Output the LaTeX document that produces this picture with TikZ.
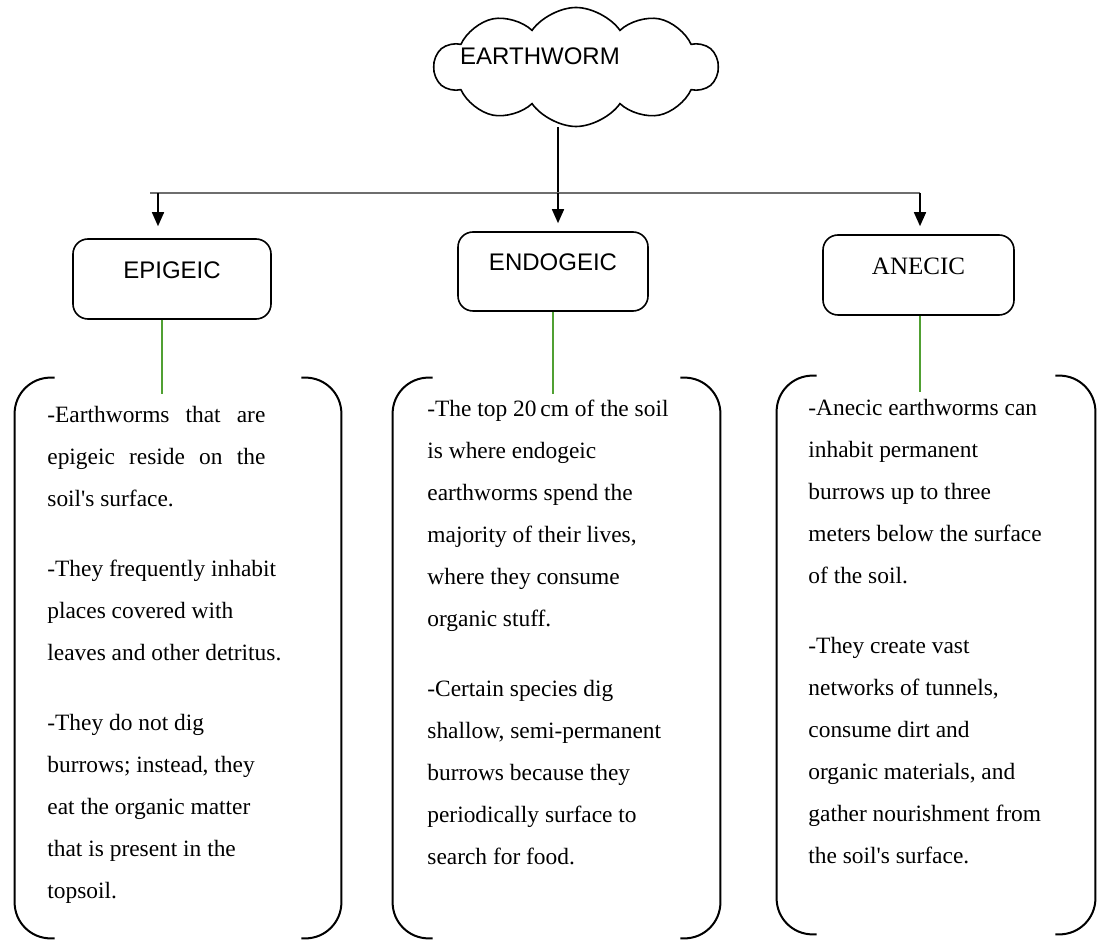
\documentclass[tikz,border=0pt]{standalone}
\usepackage{fontspec}
\setmainfont{Liberation Serif}
\setsansfont{Liberation Sans}
\usetikzlibrary{shapes.symbols,arrows.meta}
\definecolor{leafgreen}{RGB}{80,160,50}
\definecolor{railgray}{RGB}{110,110,110}

\begin{document}
\begin{tikzpicture}[x=0.5pt,y=-0.5pt]
 \tikzstyle{kind}=[rectangle, rounded corners=7.5pt, draw, line width=0.8pt, text depth=9pt, inner sep=0pt, font=\fontsize{12}{14}\selectfont]
 \tikzstyle{sheet}=[rectangle, inner sep=0pt]
 \tikzstyle{bracket}=[line width=1pt, rounded corners=18pt]
 \tikzstyle{notes}=[anchor=base west, align=left, inner sep=0pt, font=\fontsize{11.7}{21}\selectfont]
 \tikzstyle{downarr}=[-{Triangle[width=6pt,length=7pt]}, line width=0.8pt]
 \tikzstyle{greenlink}=[draw=leafgreen, line width=0.9pt, shorten >=-8pt]
 \useasboundingbox (0,0) rectangle (1097,940);
 %
 \node[cloud, draw, cloud puffs=10, cloud puff arc=110, aspect=2.4, line width=0.8pt,
   minimum width=141.5pt, minimum height=59.5pt,
   label={[xshift=-18pt, yshift=5.5pt, font=\sffamily\fontsize{12}{14}\selectfont]center:EARTHWORM}] (worm) at (576,67) {};
 %
 \coordinate (hl) at (150,193);
 \coordinate (ha) at (158,193);
 \coordinate (hb) at (558,193);
 \coordinate (hc) at (920,193);
 %
 \node[kind, minimum width=99pt, minimum height=40pt, font=\sffamily\fontsize{12}{14}\selectfont] (epi) at (172,279) {EPIGEIC};
 \node[kind, minimum width=95pt, minimum height=39.5pt, font=\sffamily\fontsize{12}{14}\selectfont] (endo) at (553,271.5) {ENDOGEIC};
 \node[kind, minimum width=95.5pt, minimum height=40pt, font=\fontsize{12.5}{14}\selectfont] (ane) at (918.5,275) {ANECIC};
 %
 \node[sheet, minimum width=163pt, minimum height=280pt] (epis) at (178,658) {};
 \node[sheet, minimum width=163.5pt, minimum height=280pt] (endos) at (556.5,658) {};
 \node[sheet, minimum width=159pt, minimum height=279pt] (anes) at (936,655) {};
 %
 \node[notes] (epit) at (47,898) {\makebox[109pt][s]{-Earthworms that are}\\
   \makebox[109pt][s]{epigeic reside on the}\\
   soil\textquotesingle s surface.\\[14pt]
   -They frequently inhabit\\
   places covered with\\
   leaves and other detritus.\\[14pt]
   -They do not dig\\
   burrows; instead, they\\
   eat the organic matter\\
   that is present in the\\
   topsoil.};
 \node[notes] (endot) at (427,864) {-The top 20\,cm of the soil\\
   is where endogeic\\
   earthworms spend the\\
   majority of their lives,\\
   where they consume\\
   organic stuff.\\[14pt]
   -Certain species dig\\
   shallow, semi-permanent\\
   burrows because they\\
   periodically surface to\\
   search for food.};
 \node[notes] (anet) at (808,863) {-Anecic earthworms can\\
   inhabit permanent\\
   burrows up to three\\
   meters below the surface\\
   of the soil.\\[14pt]
   -They create vast\\
   networks of tunnels,\\
   consume dirt and\\
   organic materials, and\\
   gather nourishment from\\
   the soil\textquotesingle s surface.};
 %%
 \foreach \s in {epis,endos,anes}{
   \draw[bracket] ([xshift=20pt]\s.north west) -- (\s.north west) -- (\s.south west) -- ([xshift=20pt]\s.south west);
   \draw[bracket] ([xshift=-20pt]\s.north east) -- (\s.north east) -- (\s.south east) -- ([xshift=-20pt]\s.south east);
 }
 %%
 \draw[line width=0.6pt] (worm.south -| hb) -- (hb);
 \draw[draw=railgray, line width=0.7pt] (hl) -- (hc);
 \draw[downarr, shorten >=6pt] (ha) -- (ha |- epi.north);
 \draw[downarr, shorten >=4pt] (hb) -- (hb |- endo.north);
 \draw[downarr, shorten >=4pt] (hc) -- (hc |- ane.north);
 \draw[greenlink] (epi.south) ++(-5pt,0) coordinate (ga) (ga) -- (ga |- epis.north);
 \draw[greenlink] (endo.south) -- (endo.south |- endos.north);
 \draw[greenlink] (ane.south -| hc) -- (hc |- anes.north);
\end{tikzpicture}
\end{document}
